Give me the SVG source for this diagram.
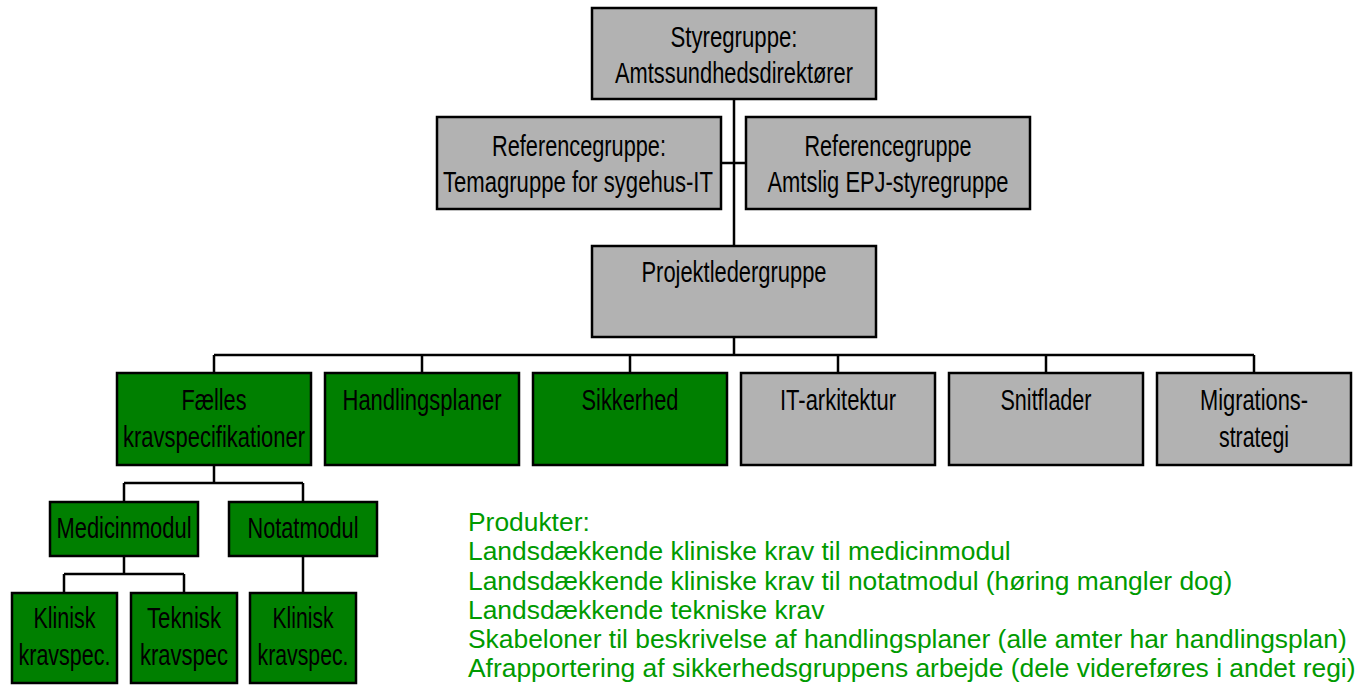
<svg xmlns="http://www.w3.org/2000/svg" width="1363" height="696" viewBox="0 0 1363 696">
<style>
.g{fill:#b2b2b2;stroke:#000;stroke-width:2.5}
.q{fill:#007f00;stroke:#000;stroke-width:2.5}
.t{font-family:"Liberation Sans Narrow","Liberation Sans",Arial,sans-serif;font-size:29px;fill:#000;text-anchor:middle}
.p{font-family:"Liberation Sans",Arial,sans-serif;font-size:26.4px;fill:#009a00}
.c{stroke:#000;stroke-width:2.5;fill:none}
</style>
<rect width="1363" height="696" fill="#fff"/>
<g id="connectors">
<path class="c" d="M734 99V246M721 163H746" stroke-width="3"/>
<path class="c" d="M734 337V355M214 355H1254M214 355V373M422 355V373M630 355V373M838 355V373M1046 355V373M1254 355V373"/>
<path class="c" d="M214 465V483M124 483H303M124 483V502M303 483V502"/>
<path class="c" d="M124 556V574M64 574H184M64 574V593M184 574V593M303 556V593"/>
</g>
<g id="styregruppe"><rect class="g" x="592" y="8" width="284" height="91"/>
<text class="t" x="734" y="47" textLength="127" lengthAdjust="spacingAndGlyphs">Styregruppe:</text>
<text class="t" x="734" y="83" textLength="238" lengthAdjust="spacingAndGlyphs">Amtssundhedsdirektører</text></g>
<g id="ref1"><rect class="g" x="437" y="117" width="284" height="92"/>
<text class="t" x="579" y="156" textLength="174" lengthAdjust="spacingAndGlyphs">Referencegruppe:</text>
<text class="t" x="578" y="192" textLength="270" lengthAdjust="spacingAndGlyphs">Temagruppe for sygehus-IT</text></g>
<g id="ref2"><rect class="g" x="746" y="117" width="284" height="92"/>
<text class="t" x="888" y="156" textLength="167" lengthAdjust="spacingAndGlyphs">Referencegruppe</text>
<text class="t" x="888" y="192" textLength="241" lengthAdjust="spacingAndGlyphs">Amtslig EPJ-styregruppe</text></g>
<g id="projektleder"><rect class="g" x="592" y="246" width="284" height="91"/>
<text class="t" x="734" y="282" textLength="185" lengthAdjust="spacingAndGlyphs">Projektledergruppe</text></g>
<g id="faelles"><rect class="q" x="117" y="373" width="194" height="92"/>
<text class="t" x="214" y="410" textLength="65" lengthAdjust="spacingAndGlyphs">Fælles</text>
<text class="t" x="214" y="447" textLength="182" lengthAdjust="spacingAndGlyphs">kravspecifikationer</text></g>
<g id="handlingsplaner"><rect class="q" x="325" y="373" width="194" height="92"/>
<text class="t" x="422" y="410" textLength="159" lengthAdjust="spacingAndGlyphs">Handlingsplaner</text></g>
<g id="sikkerhed"><rect class="q" x="533" y="373" width="194" height="92"/>
<text class="t" x="630" y="410" textLength="97" lengthAdjust="spacingAndGlyphs">Sikkerhed</text></g>
<g id="itarkitektur"><rect class="g" x="741" y="373" width="194" height="92"/>
<text class="t" x="838" y="410" textLength="116" lengthAdjust="spacingAndGlyphs">IT-arkitektur</text></g>
<g id="snitflader"><rect class="g" x="949" y="373" width="194" height="92"/>
<text class="t" x="1046" y="410" textLength="91" lengthAdjust="spacingAndGlyphs">Snitflader</text></g>
<g id="migration"><rect class="g" x="1157" y="373" width="194" height="92"/>
<text class="t" x="1254" y="410" textLength="108" lengthAdjust="spacingAndGlyphs">Migrations-</text>
<text class="t" x="1254" y="447" textLength="70" lengthAdjust="spacingAndGlyphs">strategi</text></g>
<g id="medicinmodul"><rect class="q" x="50" y="502" width="148" height="54"/>
<text class="t" x="124" y="538" textLength="135" lengthAdjust="spacingAndGlyphs">Medicinmodul</text></g>
<g id="notatmodul"><rect class="q" x="229" y="502" width="148" height="54"/>
<text class="t" x="303" y="538" textLength="111" lengthAdjust="spacingAndGlyphs">Notatmodul</text></g>
<g id="klinisk1"><rect class="q" x="12" y="593" width="105" height="90"/>
<text class="t" x="64.5" y="628" textLength="62" lengthAdjust="spacingAndGlyphs">Klinisk</text>
<text class="t" x="64.5" y="665" textLength="92" lengthAdjust="spacingAndGlyphs">kravspec.</text></g>
<g id="teknisk"><rect class="q" x="131" y="593" width="106" height="90"/>
<text class="t" x="184" y="628" textLength="74" lengthAdjust="spacingAndGlyphs">Teknisk</text>
<text class="t" x="184" y="665" textLength="88" lengthAdjust="spacingAndGlyphs">kravspec</text></g>
<g id="klinisk2"><rect class="q" x="250" y="593" width="106" height="90"/>
<text class="t" x="303" y="628" textLength="61" lengthAdjust="spacingAndGlyphs">Klinisk</text>
<text class="t" x="303" y="665" textLength="91" lengthAdjust="spacingAndGlyphs">kravspec.</text></g>
<g id="produkter">
<text class="p" x="468" y="531">Produkter:</text>
<text class="p" x="468" y="560">Landsdækkende kliniske krav til medicinmodul</text>
<text class="p" x="468" y="590">Landsdækkende kliniske krav til notatmodul (høring mangler dog)</text>
<text class="p" x="468" y="619">Landsdækkende tekniske krav</text>
<text class="p" x="468" y="648">Skabeloner til beskrivelse af handlingsplaner (alle amter har handlingsplan)</text>
<text class="p" x="468" y="677">Afrapportering af sikkerhedsgruppens arbejde (dele videreføres i andet regi)</text>
</g>
</svg>
